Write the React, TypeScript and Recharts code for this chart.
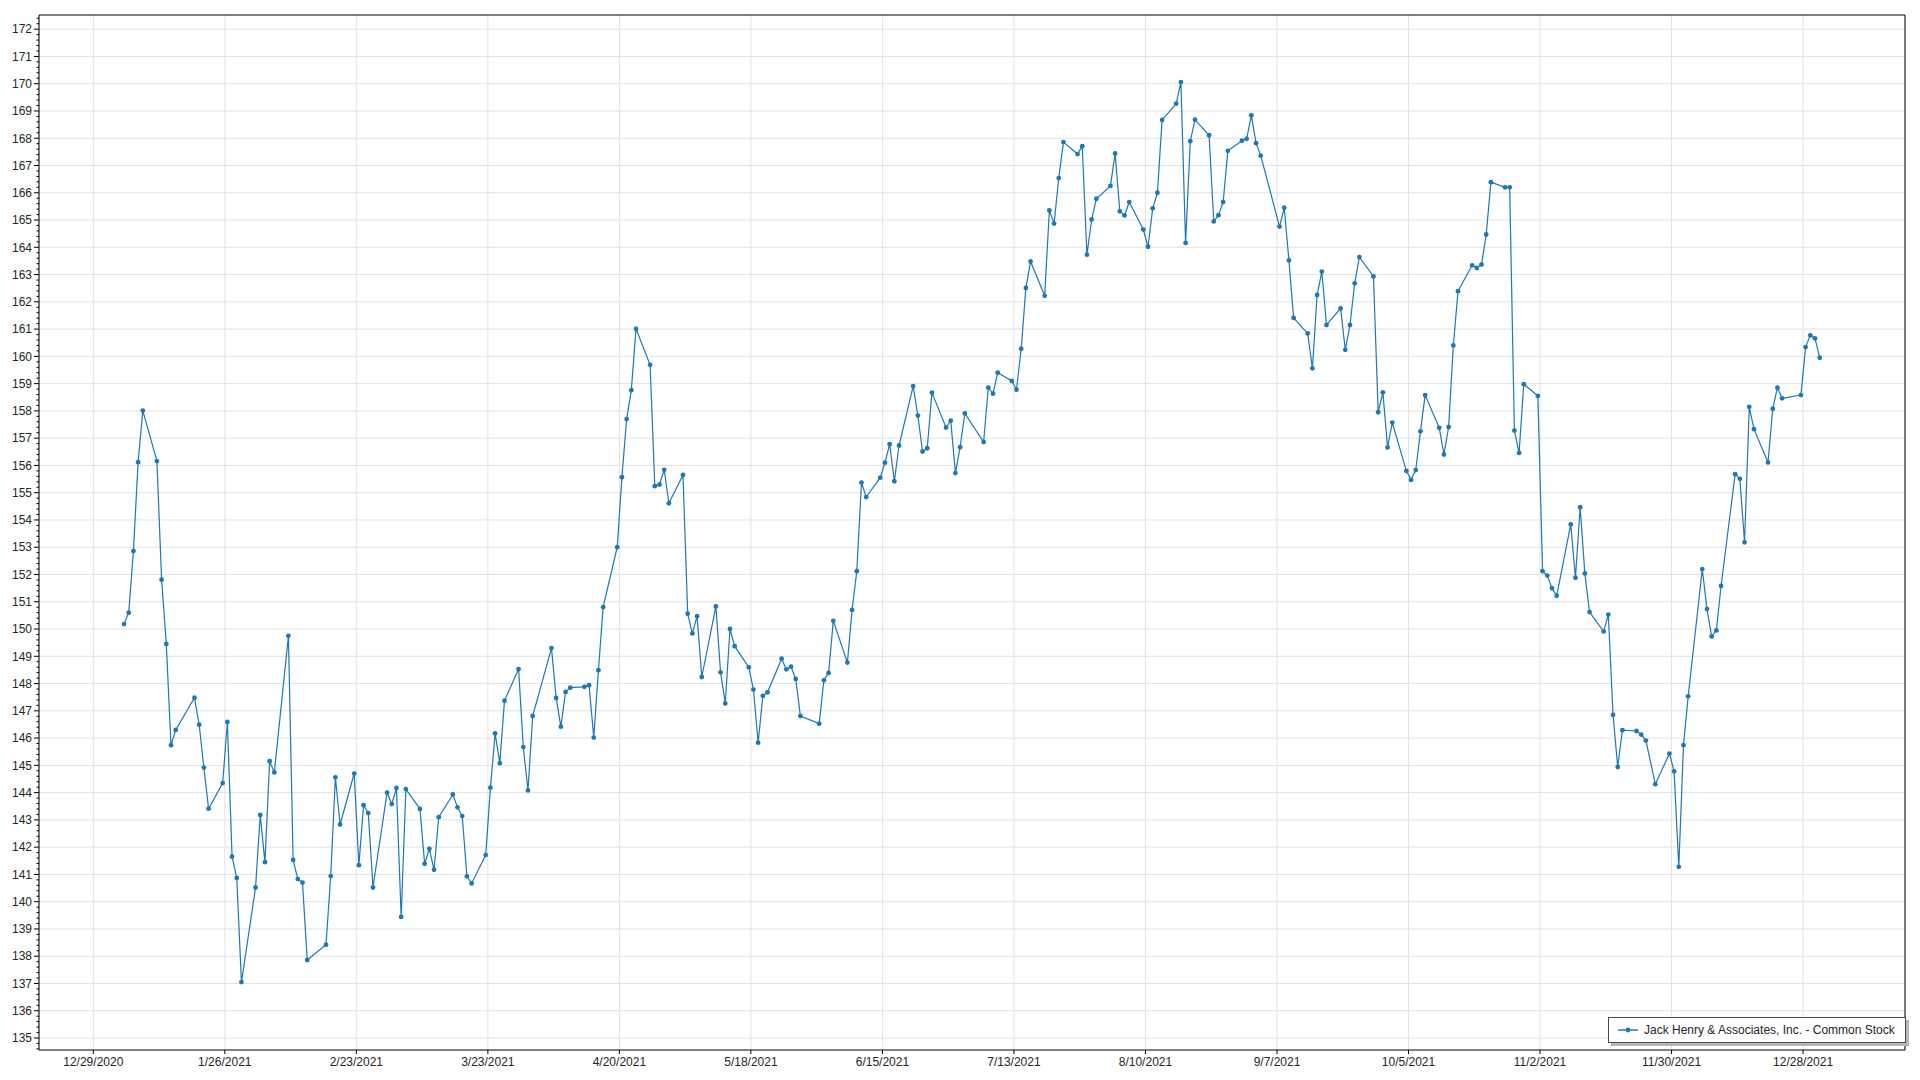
import { LineChart, Line, XAxis, YAxis, CartesianGrid, ReferenceLine } from 'recharts'

// trading days of 2021 (M/D)
const dates = [
  '1/4', '1/5', '1/6', '1/7', '1/8', '1/11', '1/12', '1/13', '1/14', '1/15', '1/19', '1/20', '1/21', '1/22', '1/25', '1/26', '1/27', '1/28', '1/29',
  '2/1', '2/2', '2/3', '2/4', '2/5', '2/8', '2/9', '2/10', '2/11', '2/12', '2/16', '2/17', '2/18', '2/19', '2/22', '2/23', '2/24', '2/25', '2/26',
  '3/1', '3/2', '3/3', '3/4', '3/5', '3/8', '3/9', '3/10', '3/11', '3/12', '3/15', '3/16', '3/17', '3/18', '3/19', '3/22', '3/23', '3/24', '3/25', '3/26', '3/29', '3/30', '3/31',
  '4/1', '4/5', '4/6', '4/7', '4/8', '4/9', '4/12', '4/13', '4/14', '4/15', '4/16', '4/19', '4/20', '4/21', '4/22', '4/23', '4/26', '4/27', '4/28', '4/29', '4/30',
  '5/3', '5/4', '5/5', '5/6', '5/7', '5/10', '5/11', '5/12', '5/13', '5/14', '5/17', '5/18', '5/19', '5/20', '5/21', '5/24', '5/25', '5/26', '5/27', '5/28',
  '6/1', '6/2', '6/3', '6/4', '6/7', '6/8', '6/9', '6/10', '6/11', '6/14', '6/15', '6/16', '6/17', '6/18', '6/21', '6/22', '6/23', '6/24', '6/25', '6/28', '6/29', '6/30',
  '7/1', '7/2', '7/6', '7/7', '7/8', '7/9', '7/12', '7/13', '7/14', '7/15', '7/16', '7/19', '7/20', '7/21', '7/22', '7/23', '7/26', '7/27', '7/28', '7/29', '7/30',
  '8/2', '8/3', '8/4', '8/5', '8/6', '8/9', '8/10', '8/11', '8/12', '8/13', '8/16', '8/17', '8/18', '8/19', '8/20', '8/23', '8/24', '8/25', '8/26', '8/27', '8/30', '8/31',
  '9/1', '9/2', '9/3', '9/7', '9/8', '9/9', '9/10', '9/13', '9/14', '9/15', '9/16', '9/17', '9/20', '9/21', '9/22', '9/23', '9/24', '9/27', '9/28', '9/29', '9/30',
  '10/1', '10/4', '10/5', '10/6', '10/7', '10/8', '10/11', '10/12', '10/13', '10/14', '10/15', '10/18', '10/19', '10/20', '10/21', '10/22', '10/25', '10/26', '10/27', '10/28', '10/29',
  '11/1', '11/2', '11/3', '11/4', '11/5', '11/8', '11/9', '11/10', '11/11', '11/12', '11/15', '11/16', '11/17', '11/18', '11/19', '11/22', '11/23', '11/24', '11/26', '11/29', '11/30',
  '12/1', '12/2', '12/3', '12/6', '12/7', '12/8', '12/9', '12/10', '12/13', '12/14', '12/15', '12/16', '12/17', '12/20', '12/21', '12/22', '12/23', '12/27', '12/28', '12/29', '12/30', '12/31',
]

const prices = [
  150.18, 150.6, 152.86, 156.12, 158.01, 156.16, 151.81, 149.45, 145.74, 146.3, 147.48, 146.49, 144.92, 143.41, 144.35, 146.59, 141.65, 140.87, 137.05,
  140.52, 143.18, 141.45, 145.15, 144.74, 149.75, 141.53, 140.83, 140.7, 137.86, 138.42, 140.94, 144.56, 142.83, 144.7, 141.34, 143.54, 143.25, 140.52,
  144.0, 143.58, 144.17, 139.44, 144.13, 143.4, 141.39, 141.94, 141.17, 143.1, 143.93, 143.46, 143.14, 140.93, 140.67, 141.71, 144.18, 146.17, 145.08, 147.37, 148.53, 145.67, 144.08,
  146.81, 149.3, 147.47, 146.42, 147.69, 147.85, 147.88, 147.94, 146.02, 148.49, 150.8, 153.0, 155.57, 157.7, 158.76, 161.01, 159.69, 155.24, 155.3, 155.84, 154.61,
  155.65, 150.56, 149.84, 150.47, 148.24, 150.83, 148.41, 147.27, 150.0, 149.37, 148.6, 147.78, 145.83, 147.55, 147.68, 148.91, 148.52, 148.62, 148.17, 146.81,
  146.53, 148.12, 148.39, 150.3, 148.77, 150.7, 152.12, 155.37, 154.84, 155.55, 156.1, 156.78, 155.42, 156.73, 158.91, 157.83, 156.51, 156.63, 158.67, 157.39, 157.64, 155.72,
  156.67, 157.91, 156.86, 158.85, 158.63, 159.4, 159.1, 158.78, 160.28, 162.51, 163.48, 162.22, 165.35, 164.87, 166.54, 167.86, 167.42, 167.71, 163.73, 165.02, 165.78,
  166.25, 167.44, 165.32, 165.17, 165.66, 164.65, 164.02, 165.43, 166.0, 168.67, 169.27, 170.06, 164.16, 167.89, 168.68, 168.11, 164.95, 165.18, 165.66, 167.54, 167.91, 167.98,
  168.84, 167.82, 167.36, 164.76, 165.45, 163.52, 161.41, 160.84, 159.56, 162.25, 163.11, 161.15, 161.76, 160.24, 161.15, 162.68, 163.64, 162.93, 157.95, 158.68, 156.66,
  157.57, 155.8, 155.47, 155.83, 157.25, 158.58, 157.38, 156.4, 157.41, 160.4, 162.39, 163.34, 163.24, 163.37, 164.47, 166.39, 166.2, 166.2, 157.28, 156.46, 158.98,
  158.55, 152.12, 151.96, 151.5, 151.22, 153.84, 151.88, 154.47, 152.04, 150.62, 149.91, 150.53, 146.85, 144.94, 146.29, 146.26, 146.13, 145.91, 144.31, 145.43, 144.78,
  141.28, 145.74, 147.53, 152.2, 150.73, 149.73, 149.95, 151.58, 155.68, 155.51, 153.18, 158.15, 157.33, 156.11, 158.08, 158.85, 158.46, 158.58, 160.34, 160.77, 160.66, 159.95,
]

const xTickLabels = [
  '12/29/2020', '1/26/2021', '2/23/2021', '3/23/2021', '4/20/2021', '5/18/2021', '6/15/2021',
  '7/13/2021', '8/10/2021', '9/7/2021', '10/5/2021', '11/2/2021', '11/30/2021', '12/28/2021',
]

const yTickLabels = [
  135, 136, 137, 138, 139, 140, 141, 142, 143, 144, 145, 146, 147, 148, 149, 150, 151, 152, 153,
  154, 155, 156, 157, 158, 159, 160, 161, 162, 163, 164, 165, 166, 167, 168, 169, 170, 171, 172,
]

const seriesName = 'Jack Henry & Associates, Inc. - Common Stock'

const BLUE = '#1f77b4'
const GRID = '#e2e2e2'
const TEXT = '#262626'
const FONT = "'Segoe UI', 'Liberation Sans', Arial, sans-serif"
const DAY = 86400000
// quotes sit a little past midnight of their day on the time axis
const QUOTE_TIME = 13 * 3600000

const toTime = (s: string) => {
  const [m, d, y] = s.split('/').map(Number)
  return Date.UTC(y || 2021, m - 1, d)
}

const fmtDate = (t: number) => {
  const d = new Date(t)
  return `${d.getUTCMonth() + 1}/${d.getUTCDate()}/${d.getUTCFullYear()}`
}

const data = dates.map((d, i) => ({ t: toTime(d) + QUOTE_TIME, price: prices[i] }))
const xTicks = xTickLabels.map(toTime)

// minor ticks every 0.2 around each labelled value
const yTicks: number[] = []
yTickLabels.forEach((v) => {
  for (let k = -2; k <= 2; k++) yTicks.push(Math.round((v + k * 0.2) * 10) / 10)
})

const xDomain = [xTicks[0] - 11.56 * DAY, xTicks[0] + 385.7 * DAY]
const yDomain = [134.56, 172.52]

const YTick = (props: any) => {
  const { x, y, payload } = props
  const v = payload.value
  const major = Math.abs(v - Math.round(v)) < 0.01
  return (
    <g>
      <line x1={x + (major ? 2 : 4.5)} x2={x + 7} y1={y} y2={y} stroke="#000" strokeWidth={1} />
      {major && (
        <text x={x} y={y} dy="0.355em" textAnchor="end" fill={TEXT} fontSize={12} fontFamily={FONT}>
          {v}
        </text>
      )}
    </g>
  )
}

const LegendBox = () => (
  <div
    style={{
      position: 'absolute',
      left: 1608,
      top: 1017,
      height: 24,
      display: 'flex',
      alignItems: 'center',
      padding: '0 10px 0 9px',
      border: '1px solid #4a4a4a',
      background: '#fff',
      boxShadow: '3px 3px 0 #b8b8b8',
      fontFamily: FONT,
      fontSize: 12,
      color: TEXT,
      whiteSpace: 'nowrap',
    }}
  >
    <svg width={20} height={8} style={{ marginRight: 6 }}>
      <line x1={0} x2={20} y1={4} y2={4} stroke={BLUE} strokeWidth={1.5} />
      <circle cx={10} cy={4} r={2.4} fill={BLUE} />
    </svg>
    <span>{seriesName}</span>
  </div>
)

export default function App() {
  return (
    <div style={{ position: 'absolute', left: 0, top: 0, width: 1920, height: 1080, background: '#fff' }}>
      <LineChart width={1920} height={1080} data={data} margin={{ top: 15, right: 15, bottom: 0, left: 0 }}>
        <CartesianGrid horizontal={false} stroke={GRID} />
        {yTickLabels.map((v) => (
          <ReferenceLine key={v} y={v} stroke={GRID} strokeWidth={1} />
        ))}
        <XAxis
          dataKey="t"
          type="number"
          domain={xDomain}
          allowDataOverflow
          ticks={xTicks}
          interval={0}
          tickFormatter={fmtDate}
          height={30}
          tickSize={4}
          tickMargin={3}
          axisLine={{ stroke: '#000' }}
          tickLine={{ stroke: '#000' }}
          tick={{ fill: TEXT, fontSize: 12, fontFamily: FONT }}
        />
        <YAxis
          type="number"
          domain={yDomain}
          allowDataOverflow
          ticks={yTicks}
          interval={0}
          width={39}
          tickSize={5}
          tickMargin={2}
          tickLine={false}
          axisLine={{ stroke: '#000' }}
          tick={YTick}
        />
        <ReferenceLine y={yDomain[1]} stroke="#000" strokeWidth={1} />
        <ReferenceLine x={xDomain[1]} stroke="#000" strokeWidth={1} />
        <Line
          type="linear"
          dataKey="price"
          name={seriesName}
          stroke={BLUE}
          strokeWidth={1.2}
          dot={{ r: 2.4, fill: BLUE, stroke: 'none' }}
          activeDot={false}
          isAnimationActive={false}
        />
      </LineChart>
      <LegendBox />
    </div>
  )
}
